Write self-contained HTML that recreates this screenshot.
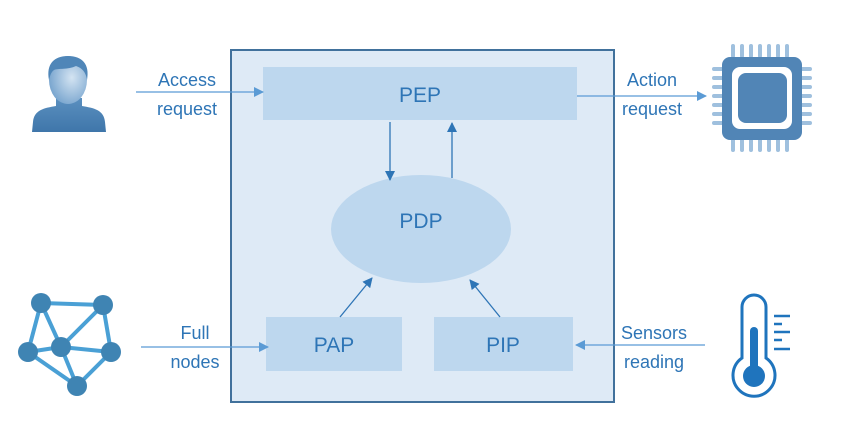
<!DOCTYPE html>
<html><head><meta charset="utf-8"><style>body{margin:0;background:#fff}svg{display:block}text{font-family:"Liberation Sans",sans-serif;fill:#2e75b6}</style></head><body>
<svg width="848" height="435" viewBox="0 0 848 435" xmlns="http://www.w3.org/2000/svg">
<defs><marker id="a" markerWidth="10" markerHeight="10" refX="9" refY="5" orient="auto" markerUnits="userSpaceOnUse"><path d="M0,0 L10,5 L0,10 z" fill="#2e75b6"/></marker>
<marker id="b" markerWidth="10" markerHeight="10" refX="9" refY="5" orient="auto" markerUnits="userSpaceOnUse"><path d="M0,0 L10,5 L0,10 z" fill="#5b9bd5"/></marker>
<linearGradient id="g" x1="0" y1="0" x2="0" y2="1"><stop offset="0" stop-color="#5a8fbf"/><stop offset="1" stop-color="#3f76aa"/></linearGradient>
<radialGradient id="f" cx="0.6" cy="0.45" r="0.6"><stop offset="0" stop-color="#d4e4f2"/><stop offset="1" stop-color="#7aa6cf"/></radialGradient></defs>
<rect x="231" y="50" width="383" height="352" fill="#deeaf6" stroke="#41719c" stroke-width="2"/>
<rect x="263" y="67" width="314" height="53" fill="#bdd7ee"/>
<text x="420" y="102" font-size="21" text-anchor="middle">PEP</text>
<ellipse cx="421" cy="229" rx="90" ry="54" fill="#bdd7ee"/>
<text x="421" y="228" font-size="21" text-anchor="middle">PDP</text>
<rect x="266" y="317" width="136" height="54" fill="#bdd7ee"/>
<text x="334" y="352" font-size="21" text-anchor="middle">PAP</text>
<rect x="434" y="317" width="139" height="54" fill="#bdd7ee"/>
<text x="503" y="352" font-size="21" text-anchor="middle">PIP</text>
<g stroke="#2e75b6" stroke-width="1.3">
<line x1="390" y1="122" x2="390" y2="180" marker-end="url(#a)"/>
<line x1="452" y1="178" x2="452" y2="123" marker-end="url(#a)"/>
<line x1="340" y1="317" x2="372" y2="278" marker-end="url(#a)"/>
<line x1="500" y1="317" x2="470" y2="280" marker-end="url(#a)"/>
</g>
<g stroke="#5b9bd5" stroke-width="1.3">
<line x1="136" y1="92" x2="263" y2="92" marker-end="url(#b)"/>
<line x1="577" y1="96" x2="706" y2="96" marker-end="url(#b)"/>
<line x1="141" y1="347" x2="268" y2="347" marker-end="url(#b)"/>
<line x1="705" y1="345" x2="576" y2="345" marker-end="url(#b)"/>
</g>
<text x="187" y="86" font-size="18" text-anchor="middle">Access</text>
<text x="187" y="115" font-size="18" text-anchor="middle">request</text>
<text x="652" y="86" font-size="18" text-anchor="middle">Action</text>
<text x="652" y="115" font-size="18" text-anchor="middle">request</text>
<text x="195" y="339" font-size="18" text-anchor="middle">Full</text>
<text x="195" y="368" font-size="18" text-anchor="middle">nodes</text>
<text x="654" y="339" font-size="18" text-anchor="middle">Sensors</text>
<text x="654" y="368" font-size="18" text-anchor="middle">reading</text>
<!-- person -->
<path d="M56,98 L56,106 C44,108 34,110 33,122 L32,132 L106,132 L105,122 C104,110 94,108 82,106 L82,98 Z" fill="url(#g)"/>
<ellipse cx="68" cy="80" rx="19" ry="24" fill="url(#f)"/>
<path d="M49,80 C46,64 54,56 68,56 C82,56 90,64 87,80 C86,72 82,68 76,66 C68,70 58,68 54,70 C51,72 50,76 49,80 Z" fill="#4f86b8"/>
<!-- chip -->
<g fill="#9fc0de">
<rect x="731" y="44" width="4" height="14" rx="2"/><rect x="740" y="44" width="4" height="14" rx="2"/><rect x="749" y="44" width="4" height="14" rx="2"/><rect x="758" y="44" width="4" height="14" rx="2"/><rect x="767" y="44" width="4" height="14" rx="2"/><rect x="776" y="44" width="4" height="14" rx="2"/><rect x="785" y="44" width="4" height="14" rx="2"/>
<rect x="731" y="138" width="4" height="14" rx="2"/><rect x="740" y="138" width="4" height="14" rx="2"/><rect x="749" y="138" width="4" height="14" rx="2"/><rect x="758" y="138" width="4" height="14" rx="2"/><rect x="767" y="138" width="4" height="14" rx="2"/><rect x="776" y="138" width="4" height="14" rx="2"/><rect x="785" y="138" width="4" height="14" rx="2"/>
<rect x="712" y="67" width="14" height="4" rx="2"/><rect x="712" y="76" width="14" height="4" rx="2"/><rect x="712" y="85" width="14" height="4" rx="2"/><rect x="712" y="94" width="14" height="4" rx="2"/><rect x="712" y="103" width="14" height="4" rx="2"/><rect x="712" y="112" width="14" height="4" rx="2"/><rect x="712" y="121" width="14" height="4" rx="2"/>
<rect x="798" y="67" width="14" height="4" rx="2"/><rect x="798" y="76" width="14" height="4" rx="2"/><rect x="798" y="85" width="14" height="4" rx="2"/><rect x="798" y="94" width="14" height="4" rx="2"/><rect x="798" y="103" width="14" height="4" rx="2"/><rect x="798" y="112" width="14" height="4" rx="2"/><rect x="798" y="121" width="14" height="4" rx="2"/>
</g>
<rect x="722" y="57" width="80" height="83" rx="8" fill="#5185b6"/>
<rect x="732" y="67" width="60" height="62" rx="8" fill="#fff"/>
<rect x="738" y="73" width="49" height="50" rx="8" fill="#5185b6"/>
<!-- network -->
<g stroke="#4aa0d5" stroke-width="4">
<line x1="41" y1="303" x2="103" y2="305"/><line x1="41" y1="303" x2="28" y2="352"/><line x1="41" y1="303" x2="61" y2="347"/><line x1="103" y1="305" x2="61" y2="347"/><line x1="103" y1="305" x2="111" y2="352"/><line x1="28" y1="352" x2="61" y2="347"/><line x1="61" y1="347" x2="111" y2="352"/><line x1="28" y1="352" x2="77" y2="386"/><line x1="61" y1="347" x2="77" y2="386"/><line x1="111" y1="352" x2="77" y2="386"/>
</g>
<g fill="#3f84b3"><circle cx="41" cy="303" r="10"/><circle cx="103" cy="305" r="10"/><circle cx="28" cy="352" r="10"/><circle cx="61" cy="347" r="10"/><circle cx="111" cy="352" r="10"/><circle cx="77" cy="386" r="10"/></g>
<!-- thermometer -->
<path d="M742,358 L742,307 A12,12 0 0 1 766,307 L766,358 A21,21 0 1 1 742,358 Z" fill="none" stroke="#1f74bd" stroke-width="3"/>
<rect x="750" y="327" width="8" height="45" rx="4" fill="#1f74bd"/>
<circle cx="754" cy="376" r="11" fill="#1f74bd"/>
<g stroke="#1f74bd" stroke-width="2.5"><line x1="774" y1="316" x2="790" y2="316"/><line x1="774" y1="324" x2="782" y2="324"/><line x1="774" y1="332" x2="790" y2="332"/><line x1="774" y1="340" x2="782" y2="340"/><line x1="774" y1="349" x2="790" y2="349"/></g>
</svg>
</body></html>
